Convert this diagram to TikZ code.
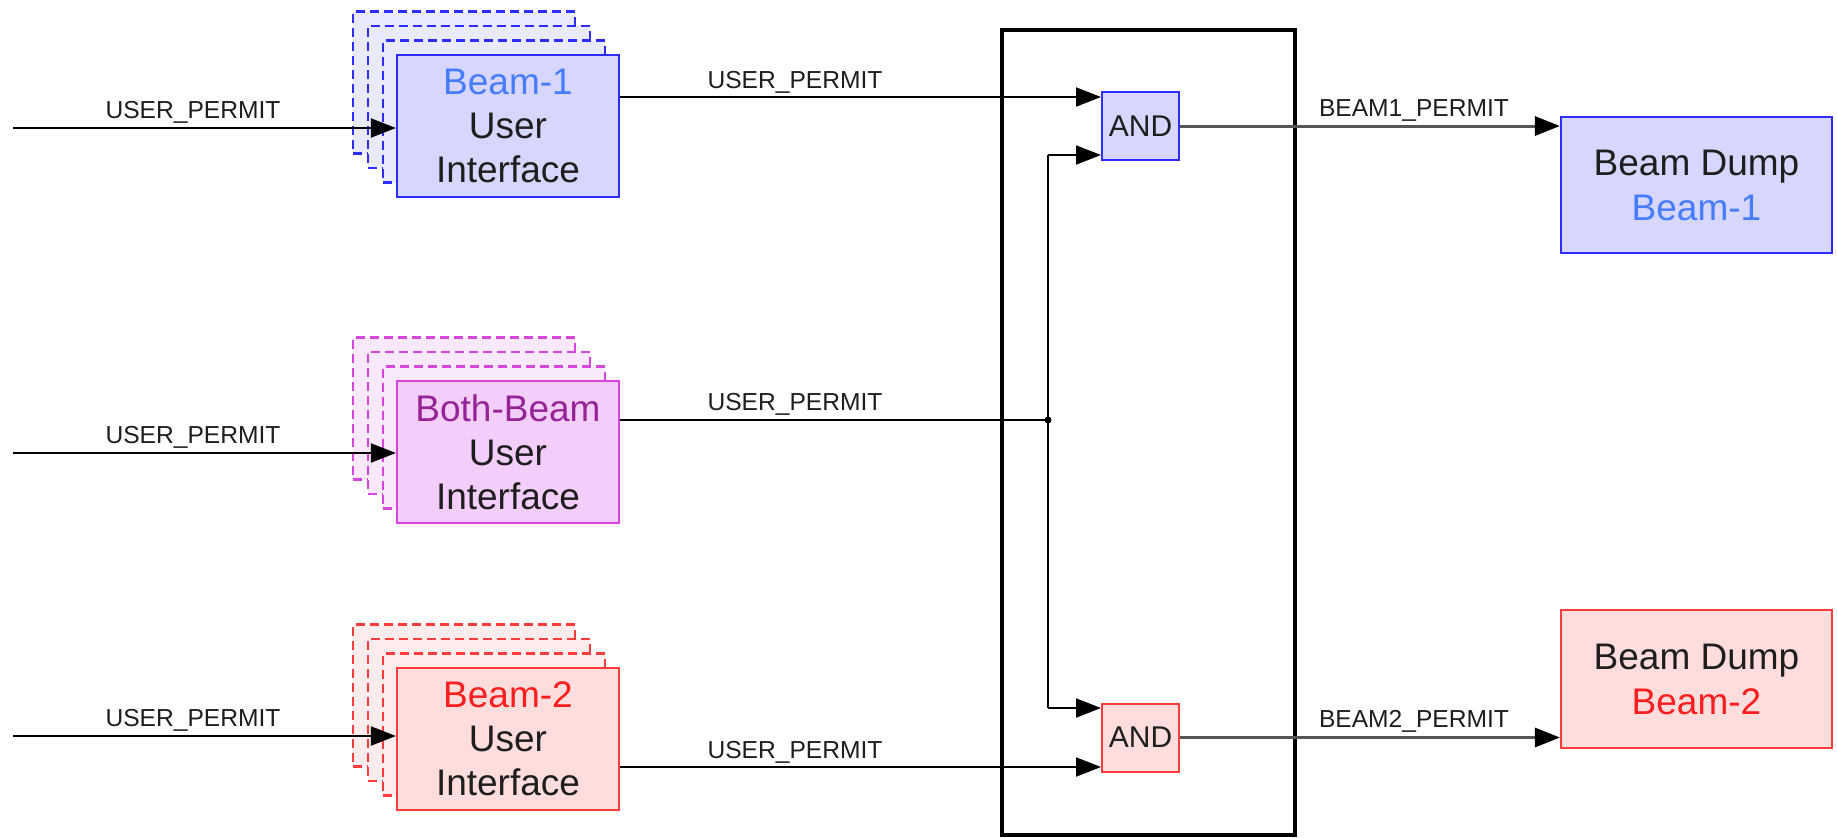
\documentclass[tikz,border=0pt]{standalone}
\usepackage{fontspec}
\setmainfont{Liberation Sans}
\usetikzlibrary{arrows.meta,calc}

\definecolor{bfill}{RGB}{214,214,255}
\definecolor{bfillx}{RGB}{234,234,255}
\definecolor{bline}{RGB}{45,45,255}
\definecolor{btext}{RGB}{70,125,255}
\definecolor{pfill}{RGB}{244,206,250}
\definecolor{pfillx}{RGB}{250,232,252}
\definecolor{pline}{RGB}{215,70,220}
\definecolor{ptext}{RGB}{150,35,150}
\definecolor{rfill}{RGB}{255,221,221}
\definecolor{rfillx}{RGB}{255,236,236}
\definecolor{rline}{RGB}{255,60,60}
\definecolor{rtext}{RGB}{255,30,30}
\definecolor{ink}{RGB}{30,30,30}
\definecolor{wire}{RGB}{85,85,85}

\tikzset{
  uibox/.style={draw=#1line, fill=#1fill, line width=1.1pt, minimum width=111pt,
    minimum height=71pt, inner sep=0pt, align=center, text=ink,
    font=\fontsize{18.5}{22}\selectfont},
  uiback/.style={draw=#1line, fill=#1fillx, line width=1.2pt, dash pattern=on 4.5pt off 2.5pt,
    minimum width=111pt, minimum height=71pt, inner sep=0pt},
  andbox/.style={draw=#1line, fill=#1fill, line width=1pt, minimum width=38.5pt,
    minimum height=34pt, inner sep=0pt, text=ink, font=\fontsize{15}{17}\selectfont},
  dumpbox/.style={draw=#1line, fill=#1fill, line width=1.1pt, minimum width=135.5pt,
    inner sep=0pt, align=center, text=ink, font=\fontsize{18.5}{22.5}\selectfont},
  sig/.style={line width=1pt, draw=black, -{Triangle[length=12.5pt,width=9.5pt]}},
  bus/.style={line width=1pt, draw=black},
  outsig/.style={line width=1.5pt, draw=wire,
    -{Triangle[length=12.5pt,width=9.5pt,color=black,fill=black]}},
  lbl/.style={font=\fontsize{12.3}{14}\selectfont, text=ink, inner sep=0pt, anchor=base},
}

\begin{document}
\begin{tikzpicture}[x=0.5pt,y=-0.5pt]
\useasboundingbox (0,0) rectangle (1837,837);
\fill[white] (0,0) rectangle (1837,837);

% ---- user interface stacks: three dashed copies behind each box ----
\foreach \c/\y in {b/126, p/452, r/739}{
  \node[uiback=\c] at (464,\y-43.5) {};
  \node[uiback=\c] at (479,\y-29) {};
  \node[uiback=\c] at (494,\y-14.5) {};
}
\node[uibox=b] (u1) at (508,126) {\textcolor{btext}{Beam-1}\\User\\Interface};
\node[uibox=p] (u2) at (508,452) {\textcolor{ptext}{Both-Beam}\\User\\Interface};
\node[uibox=r] (u3) at (508,739) {\textcolor{rtext}{Beam-2}\\User\\Interface};

% ---- logic block ----
\node[draw=black, line width=1.6pt, minimum width=146.5pt, minimum height=402.5pt,
      inner sep=0pt] (logic) at (1148.5,432.5) {};
\node[andbox=b] (and1) at (1140.5,126) {AND};
\node[andbox=r] (and2) at (1140.5,737.5) {AND};

% ---- beam dumps ----
\node[dumpbox=b, minimum height=68pt] (d1) at (1696.5,185)
  {Beam Dump\\\textcolor{btext}{Beam-1}};
\node[dumpbox=r, minimum height=69pt] (d2) at (1696.5,679)
  {Beam Dump\\\textcolor{rtext}{Beam-2}};

% ---- connection points ----
\coordinate (in1) at (13,128);
\coordinate (in2) at (13,453);
\coordinate (in3) at (13,736);
\coordinate (a1i1) at ($(and1.west)+(0,-29)$);
\coordinate (a1i2) at ($(and1.west)+(0,29)$);
\coordinate (a2i1) at ($(and2.west)+(0,-29.5)$);
\coordinate (a2i2) at ($(and2.west)+(0,29.5)$);
\coordinate (jx) at (1048,420);

% ---- input permits ----
\draw[sig] (in1) -- (in1 -| u1.west);
\draw[sig] (in2) -- (in2 -| u2.west);
\draw[sig] (in3) -- (in3 -| u3.west);
\node[lbl] at (193,118) {USER\_PERMIT};
\node[lbl] at (193,443) {USER\_PERMIT};
\node[lbl] at (193,726) {USER\_PERMIT};

% ---- user permits into the AND gates ----
\draw[sig] (a1i1 -| u1.east) -- (a1i1);
\draw[bus] (jx -| u2.east) -- (jx);
\draw[sig] (a2i2 -| u3.east) -- (a2i2);
\node[lbl] at (795,88) {USER\_PERMIT};
\node[lbl] at (795,410) {USER\_PERMIT};
\node[lbl] at (795,758) {USER\_PERMIT};

% ---- both-beam permit fan-out ----
\draw[bus] (a1i2 -| jx) -- (a2i1 -| jx);
\draw[sig] (a1i2 -| jx) -- (a1i2);
\draw[sig] (a2i1 -| jx) -- (a2i1);
\fill[black] (jx) circle (3.5);

% ---- beam permits to the dumps ----
\draw[outsig] (and1.east) -- (and1.east -| d1.west);
\draw[outsig] (and2.east) -- (and2.east -| d2.west);
\node[lbl] at (1414,116) {BEAM1\_PERMIT};
\node[lbl] at (1414,727) {BEAM2\_PERMIT};
\end{tikzpicture}
\end{document}
